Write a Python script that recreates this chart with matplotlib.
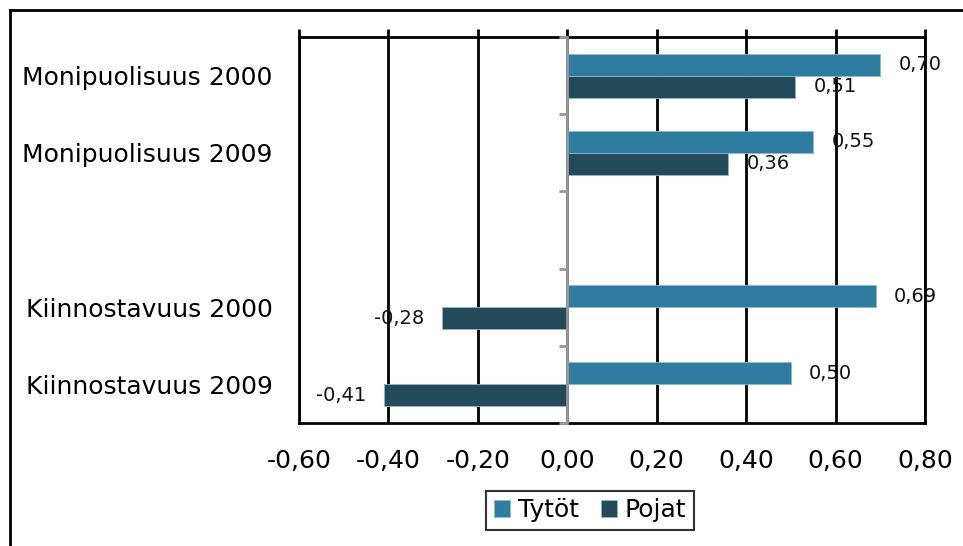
import matplotlib
matplotlib.use("Agg")
import matplotlib.pyplot as plt
from matplotlib.lines import Line2D
import numpy as np

categories = ["Monipuolisuus 2000", "Monipuolisuus 2009", "", "Kiinnostavuus 2000", "Kiinnostavuus 2009"]
tytot = [0.70, 0.55, None, 0.69, 0.50]
pojat = [0.51, 0.36, None, -0.28, -0.41]
xticks = [-0.60, -0.40, -0.20, 0.00, 0.20, 0.40, 0.60, 0.80]
series_names = ["Tytöt", "Pojat"]

c_t = "#2E7CA0"
c_p = "#254B5B"

plt.rcParams['font.family'] = ['DejaVu Sans']

fig = plt.figure(figsize=(9.63, 5.46), dpi=100)
ax = fig.add_axes([299/963, 1-423/546, (925-299)/963, (423-37)/546])

pos = np.arange(len(categories))
h = 0.285

def fmt(v):
    return f"{v:.2f}".replace(".", ",")

for vals, off, col, name in [(tytot, -h/2, c_t, series_names[0]), (pojat, h/2, c_p, series_names[1])]:
    ys = [p + off for p, v in zip(pos, vals) if v is not None]
    vs = [v for v in vals if v is not None]
    ax.barh(ys, vs, height=h, color=col, edgecolor="#8db8cc", linewidth=0.6, label=name, zorder=3)
    for y, v in zip(ys, vs):
        if v >= 0:
            ax.annotate(fmt(v), (v, y), xytext=(13, 0), textcoords="offset points",
                        ha="left", va="center", fontsize=14, color="#111111", zorder=4)
        else:
            ax.annotate(fmt(v), (v, y), xytext=(-13, 0), textcoords="offset points",
                        ha="right", va="center", fontsize=14, color="#111111", zorder=4)

ax.set_xlim(-0.6, 0.8)
ax.set_ylim(len(categories) - 0.5, -0.5)
ax.set_xticks(xticks)
ax.set_xticklabels([fmt(v) for v in xticks], fontsize=18)
ax.set_yticks(pos)
ax.set_yticklabels(categories, fontsize=18)
ax.tick_params(axis='y', length=0, pad=19)
ax.tick_params(axis='x', top=True, bottom=False, labeltop=False, labelbottom=True,
               direction='out', length=6, width=2, color='black', pad=13)
ax.grid(axis='x', color='black', linewidth=2, zorder=1)
for s in ax.spines.values():
    s.set_color('black')
    s.set_linewidth(2)

# zero axis (category axis) in gray
sec = ax.secondary_yaxis(0.6/1.4)
sec.set_yticks(np.arange(len(categories) + 1) - 0.5)
sec.set_yticklabels([])
sec.tick_params(axis='y', direction='out', length=6, width=2, color='#999999')
sec.spines['left'].set_color('#999999')
sec.spines['left'].set_linewidth(2)
sec.set_zorder(5)

leg = ax.legend(loc='center', bbox_to_anchor=(590/963, 1-510/546), bbox_transform=fig.transFigure,
                ncol=2, fontsize=18, frameon=True, fancybox=False, edgecolor='black',
                handlelength=0.65, handleheight=0.65, handletextpad=0.3, columnspacing=0.9,
                borderpad=0.3)
leg.get_frame().set_linewidth(1.5)

# outer frame lines
fig.add_artist(Line2D([10/963, 10/963], [0, 1-10/546], transform=fig.transFigure, color='black', lw=2))
fig.add_artist(Line2D([10/963, 1], [1-10/546, 1-10/546], transform=fig.transFigure, color='black', lw=2))

fig.savefig("out.png", dpi=100)
